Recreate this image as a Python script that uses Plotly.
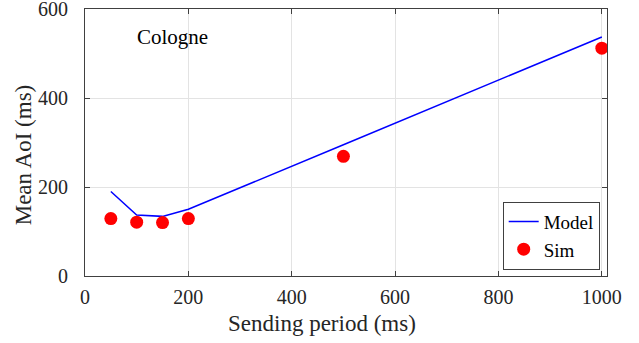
import plotly.graph_objects as go

period = [50, 100, 150, 200, 500, 1000]
model_aoi = [190, 137, 134, 150, 295, 537]
sim_aoi = [129, 121, 120, 129, 269, 512]

x_ticks = [0, 200, 400, 600, 800, 1000]
y_ticks = [0, 200, 400, 600]

font = "Liberation Serif"
axcol = "#404040"
txtcol = "#262626"

fig = go.Figure()
fig.add_trace(go.Scatter(x=period, y=model_aoi, mode="lines", name="Model",
                         line=dict(color="#0000ff", width=1.5)))
fig.add_trace(go.Scatter(x=period, y=sim_aoi, mode="markers", name="Sim",
                         marker=dict(color="#ff0000", size=13)))

axis_common = dict(showline=True, linecolor=axcol, linewidth=1, mirror="ticks",
                   ticks="inside", ticklen=5, tickcolor=axcol,
                   showgrid=True, gridcolor="#e3e3e3", gridwidth=1,
                   zeroline=False, ticklabeloverflow="allow", automargin=False,
                   tickfont=dict(family=font, size=20, color=txtcol))

fig.update_xaxes(range=[0, 1010], tickvals=x_ticks, ticklabelstandoff=3, **axis_common)
fig.update_yaxes(range=[0, 600], tickvals=y_ticks, ticklabelstandoff=12, **axis_common)

# axis titles
fig.add_annotation(xref="paper", yref="paper", x=0.4547, y=-0.1787,
                   xanchor="center", yanchor="middle",
                   text="Sending period (ms)", showarrow=False,
                   font=dict(family=font, size=23, color=txtcol))
fig.add_annotation(xref="paper", yref="paper", x=-0.1178, y=0.454,
                   xanchor="center", yanchor="middle",
                   text="Mean AoI (ms)", showarrow=False, textangle=-90,
                   font=dict(family=font, size=23, color=txtcol))

fig.add_annotation(x=169, y=537, xanchor="center", yanchor="middle",
                   text="Cologne", showarrow=False,
                   font=dict(family=font, size=21, color="black"))

fig.update_layout(
    width=639, height=343,
    font=dict(family=font, color=txtcol),
    margin=dict(l=85, r=32, t=9, b=67),
    plot_bgcolor="white", paper_bgcolor="white",
    showlegend=True,
    legend=dict(x=0.986, y=0.024, xanchor="right", yanchor="bottom",
                bgcolor="white", bordercolor=axcol, borderwidth=1,
                font=dict(family=font, size=19, color="black"),
                itemwidth=30, tracegroupgap=0),
)

fig.write_html("out.html")
